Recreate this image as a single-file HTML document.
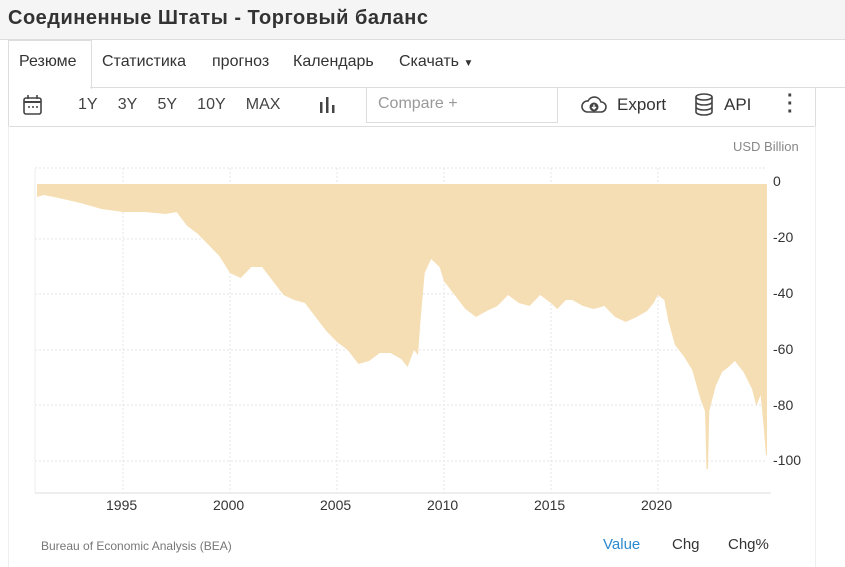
<!DOCTYPE html>
<html><head><meta charset="utf-8"><style>
body{margin:0;width:845px;height:567px;background:#fff;font-family:"Liberation Sans",sans-serif;overflow:hidden;position:relative}
.t{position:absolute;white-space:nowrap}
</style></head><body>
<div style="position:absolute;left:0;top:0;width:845px;height:39px;background:#f5f5f5;border-bottom:1px solid #ddd"></div>
<div class="t" style="left:8px;top:7px;font-size:20px;font-weight:bold;color:#333;letter-spacing:0.5px">Соединенные Штаты - Торговый баланс</div>
<div style="position:absolute;left:8px;top:40px;width:82px;height:48px;border:1px solid #ddd;border-bottom:none;background:#fff"></div>
<div style="position:absolute;left:90px;top:87px;width:755px;border-top:1px solid #ddd"></div>
<div class="t" style="left:19px;top:53px;font-size:16px;color:#333">Резюме</div>
<div class="t" style="left:102px;top:53px;font-size:16px;color:#333">Статистика</div>
<div class="t" style="left:212px;top:53px;font-size:16px;color:#333">прогноз</div>
<div class="t" style="left:293px;top:53px;font-size:16px;color:#333">Календарь</div>
<div class="t" style="left:399px;top:53px;font-size:16px;color:#333">Скачать <span style="font-size:10px">▼</span></div>
<div style="position:absolute;left:8px;top:88px;width:806px;height:38px;border:1px solid #ddd;border-top:none"></div>
<div style="position:absolute;left:8px;top:126px;width:806px;height:441px;border-left:1px solid #eee;border-right:1px solid #eee"></div>
<svg style="position:absolute;left:22px;top:94px" width="22" height="22"><rect x="2" y="4" width="17" height="16" rx="2" fill="none" stroke="#444" stroke-width="1.6"/><line x1="2" y1="8" x2="19" y2="8" stroke="#444" stroke-width="2"/><line x1="6" y1="1" x2="6" y2="5" stroke="#444" stroke-width="1.6"/><line x1="15" y1="1" x2="15" y2="5" stroke="#444" stroke-width="1.6"/><circle cx="7" cy="13" r="1" fill="#444"/><circle cx="11" cy="13" r="1" fill="#444"/><circle cx="15" cy="13" r="1" fill="#444"/></svg>
<div class="t" style="left:78px;top:96px;font-size:16px;color:#444;word-spacing:16px">1Y 3Y 5Y 10Y MAX</div>
<svg style="position:absolute;left:319px;top:96px" width="18" height="18"><rect x="1" y="6" width="2.5" height="11" fill="#444"/><rect x="7" y="1" width="2.5" height="16" fill="#444"/><rect x="13" y="9" width="2.5" height="8" fill="#444"/></svg>
<div style="position:absolute;left:366px;top:88px;width:190px;height:34px;border:1px solid #ddd;border-top:none"></div>
<div class="t" style="left:378px;top:95px;font-size:16px;color:#999">Compare +</div>
<svg style="position:absolute;left:580px;top:94px" width="28" height="22"><path d="M7 18 H21 A5 5 0 0 0 21 8 A7 7 0 0 0 8 7 A5.5 5.5 0 0 0 7 18Z" fill="none" stroke="#444" stroke-width="1.6"/><circle cx="14" cy="13" r="4.5" fill="#444"/><path d="M14 10.5 V15 M12 13 L14 15 L16 13" stroke="#fff" stroke-width="1.3" fill="none"/></svg>
<div class="t" style="left:617px;top:95px;font-size:17px;color:#333">Export</div>
<svg style="position:absolute;left:694px;top:93px" width="20" height="24"><ellipse cx="10" cy="4" rx="8" ry="3" fill="none" stroke="#444" stroke-width="1.6"/><path d="M2 4 V19 A8 3 0 0 0 18 19 V4 M2 9 A8 3 0 0 0 18 9 M2 14 A8 3 0 0 0 18 14" fill="none" stroke="#444" stroke-width="1.6"/></svg>
<div class="t" style="left:724px;top:95px;font-size:17px;color:#333">API</div>
<div class="t" style="left:787px;top:92px;font-size:20px;color:#444;font-weight:bold;line-height:8px">·<br>·<br>·</div>
<div class="t" style="left:733px;top:139px;font-size:13px;color:#888">USD Billion</div>
<svg style="position:absolute;left:0;top:0" width="845" height="567">
<g stroke="#e6e6e6" stroke-dasharray="2,2" stroke-width="1">
<line x1="35" y1="168" x2="767" y2="168"/><line x1="35" y1="239" x2="767" y2="239"/><line x1="35" y1="294" x2="767" y2="294"/><line x1="35" y1="350" x2="767" y2="350"/><line x1="35" y1="405" x2="767" y2="405"/><line x1="35" y1="461" x2="767" y2="461"/>
<line x1="123" y1="168" x2="123" y2="493"/><line x1="230" y1="168" x2="230" y2="493"/><line x1="337" y1="168" x2="337" y2="493"/><line x1="444" y1="168" x2="444" y2="493"/><line x1="551" y1="168" x2="551" y2="493"/><line x1="658" y1="168" x2="658" y2="493"/>
</g>
<line x1="35" y1="168" x2="35" y2="493" stroke="#eee"/>
<line x1="35" y1="493" x2="771" y2="493" stroke="#ddd"/>
<polygon fill="#f5deb3" points="37,184 767,184 767,455 766,455 763.8,428 760.6,395 756.3,406 752,389 743.5,372 734.9,361 728.5,367 722.1,372 715.7,386 709.3,411 708,469 706.5,469 705,411 700.7,400 692.2,370 683.6,356 675,345 668.6,322 664.3,300 657.9,295 653.6,303 647.2,311 636.5,317 625.8,322 615.1,317 604.4,306 593.7,309 583,306 572.3,300 565.9,300 557.3,309 550.9,303 540.2,295 529.5,306 518.8,303 508.1,295 497.4,306 486.7,311 476,317 465.3,309 454.6,295 443.9,281 439.6,267 431.1,259 424.7,273 420.4,322 418,355 414,350 407.6,367 401.2,359 390.5,353 379.8,353 369.1,361 358.4,364 347.7,350 337,342 326.3,331 315.6,317 304.9,303 294.2,300 283.5,295 272.8,281 262.1,267 251.4,267 240.7,278 230,273 219.3,256 208.6,245 197.9,234 187.2,226 176.5,212 165.8,214 144.4,212 123,212 101.6,209 80.2,203 58.8,198 43.8,195 37,197"/>
</svg>
<div class="t" style="left:773px;top:173px;font-size:14px;color:#333">0</div>
<div class="t" style="left:773px;top:229px;font-size:14px;color:#333">-20</div>
<div class="t" style="left:773px;top:285px;font-size:14px;color:#333">-40</div>
<div class="t" style="left:773px;top:341px;font-size:14px;color:#333">-60</div>
<div class="t" style="left:773px;top:397px;font-size:14px;color:#333">-80</div>
<div class="t" style="left:773px;top:452px;font-size:14px;color:#333">-100</div>
<div class="t" style="left:106px;top:497px;font-size:14px;color:#333">1995</div>
<div class="t" style="left:213px;top:497px;font-size:14px;color:#333">2000</div>
<div class="t" style="left:320px;top:497px;font-size:14px;color:#333">2005</div>
<div class="t" style="left:427px;top:497px;font-size:14px;color:#333">2010</div>
<div class="t" style="left:534px;top:497px;font-size:14px;color:#333">2015</div>
<div class="t" style="left:641px;top:497px;font-size:14px;color:#333">2020</div>
<div class="t" style="left:41px;top:539px;font-size:12px;color:#777">Bureau of Economic Analysis (BEA)</div>
<div class="t" style="left:603px;top:536px;font-size:15px;color:#2a8ad0">Value</div>
<div class="t" style="left:672px;top:536px;font-size:15px;color:#333">Chg</div>
<div class="t" style="left:728px;top:536px;font-size:15px;color:#333">Chg%</div>
</body></html>
